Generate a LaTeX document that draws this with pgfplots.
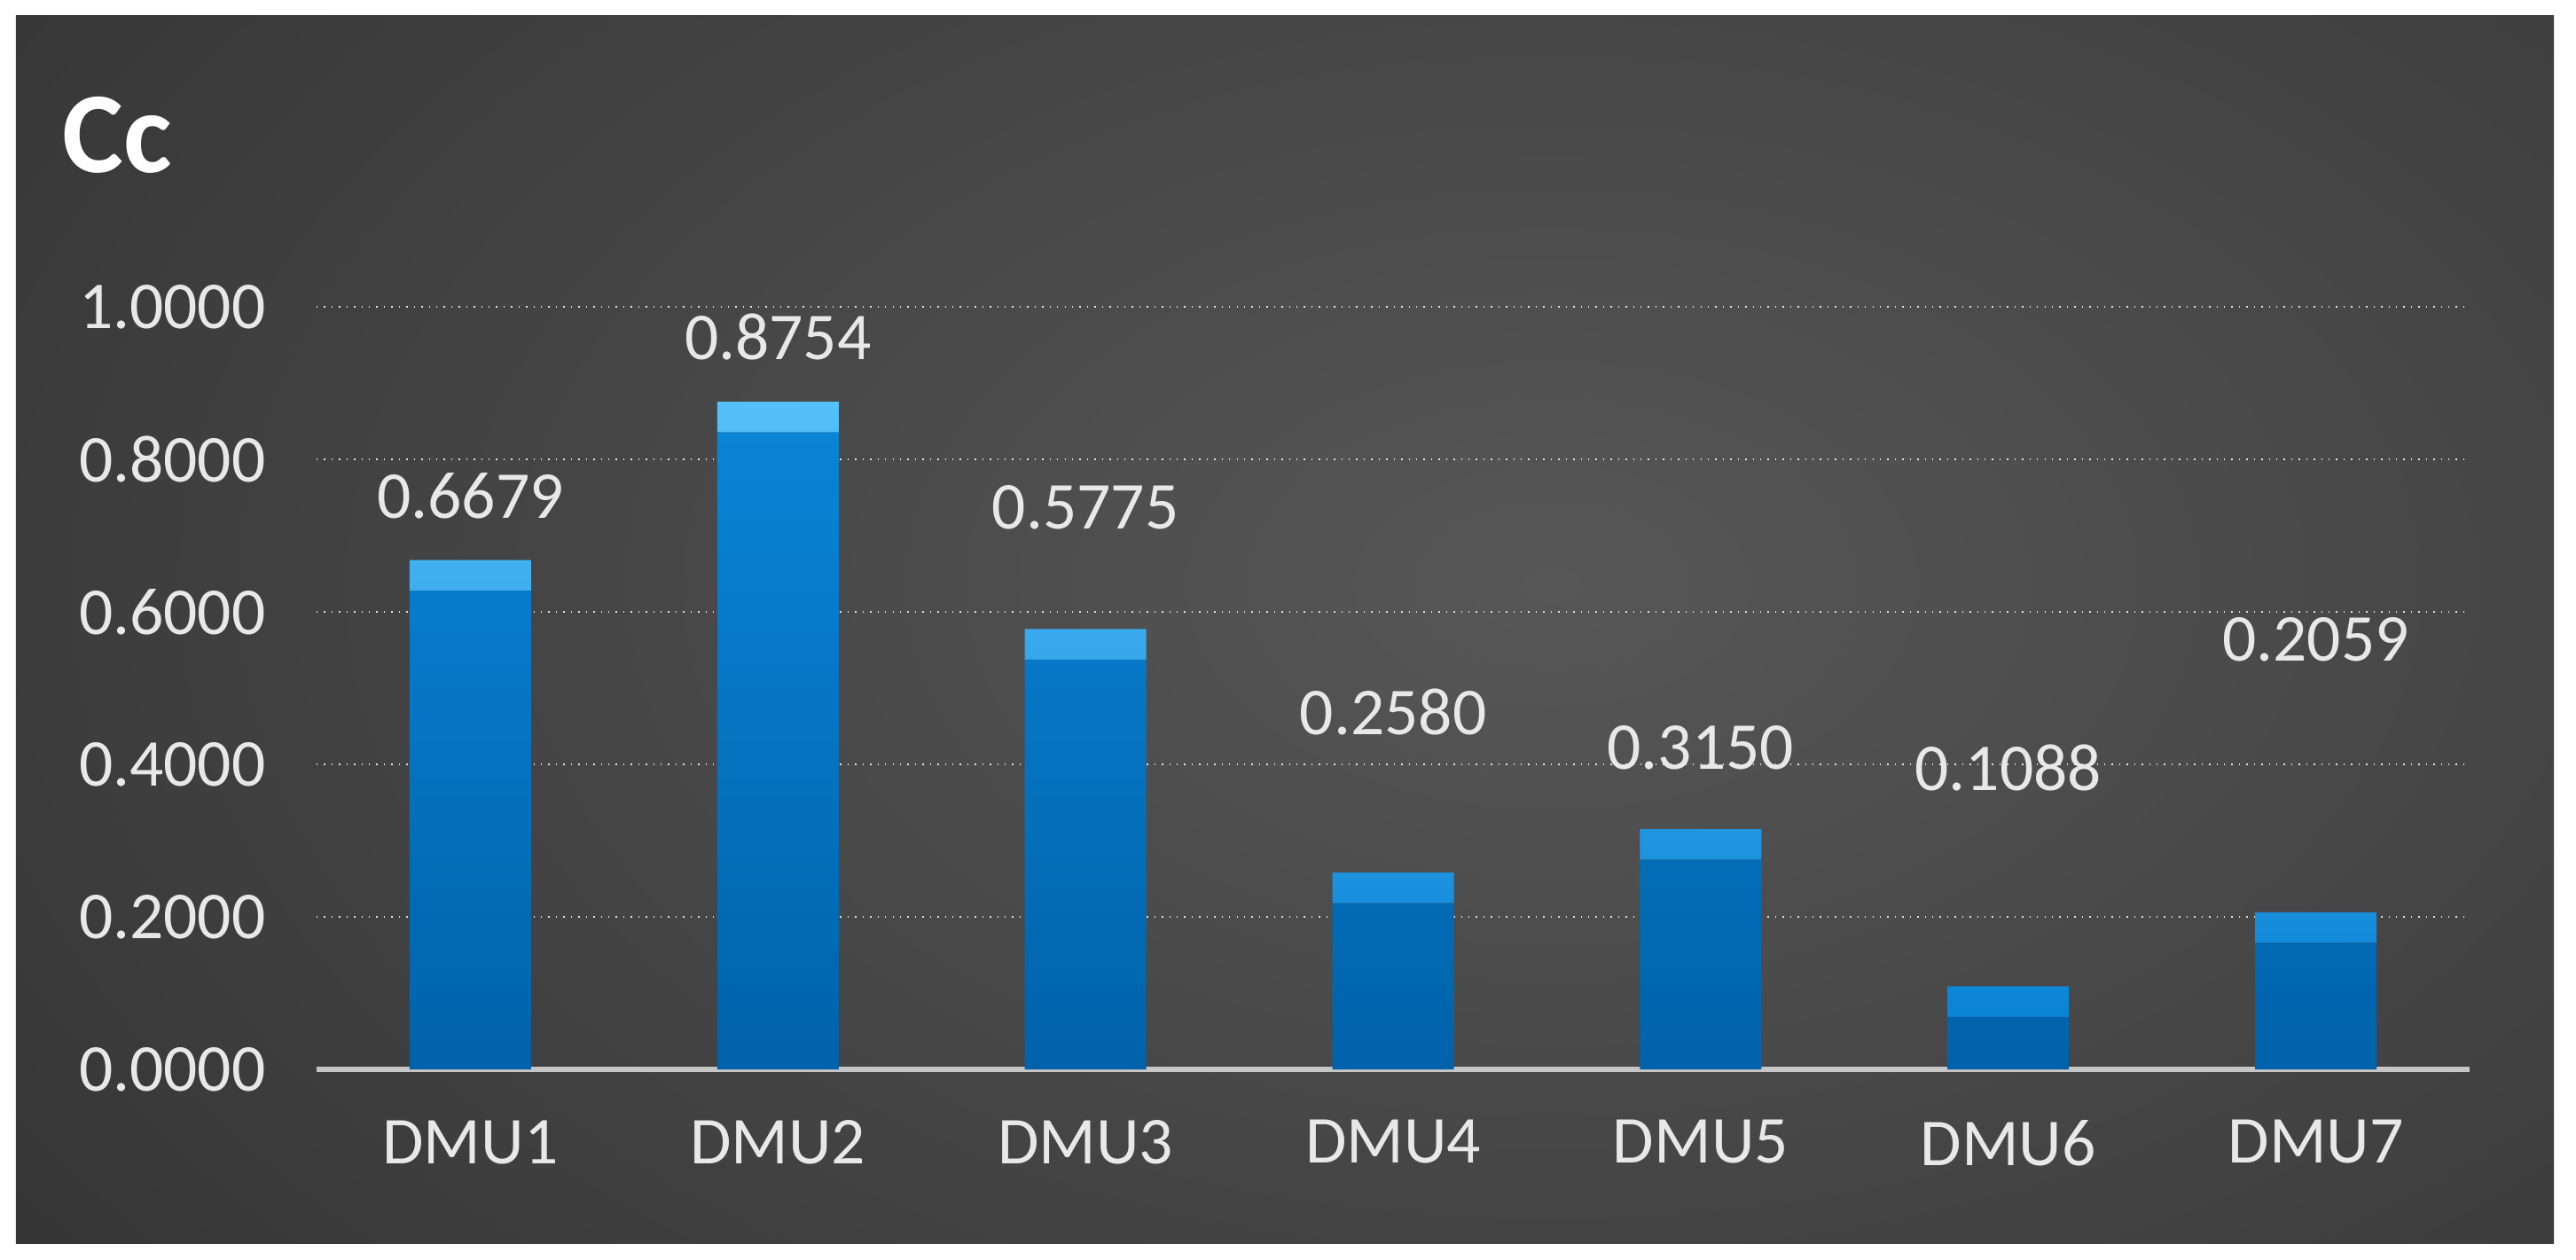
\documentclass[border=0pt]{standalone}
\usepackage{fontspec}
\setmainfont{Carlito}
\usepackage{pgfplots}
\usepackage{pgfplotstable}
\pgfplotsset{compat=1.18}

\definecolor{bgdark}{HTML}{1E1E1E}
\definecolor{bglight}{HTML}{575757}
\definecolor{bartop}{HTML}{0A84D6}
\definecolor{barbot}{HTML}{0062AA}
\definecolor{caphi}{HTML}{55C0FA}
\definecolor{txt}{HTML}{E8E8E8}

% x, value, label height
\pgfplotstableread{
x v ly
0 0.6679 0.7716
1 0.8754 0.9806
2 0.5775 0.7565
3 0.2580 0.4892
4 0.3150 0.4418
5 0.1088 0.4159
6 0.2059 0.5841
}\cc

\begin{document}
\begin{tikzpicture}
\fill[white] (0,0) rectangle (29.05,14.2);
\begin{scope}
  \clip (0.18,0.18) rectangle (28.80,14.02);
  \fill[bgdark] (0.18,0.18) rectangle (28.80,14.02);
  \shade[inner color=bglight, outer color=bgdark] (17.5,7.6) ellipse [x radius=36cm, y radius=22cm];
\end{scope}
\node[anchor=base west, inner sep=0, text=white,
      font=\fontsize{37}{40}\selectfont\bfseries] at (0.70,12.25) {Cc};

\begin{axis}[
  at={(3.57cm,2.14cm)}, anchor=south west,
  width=24.28cm, height=8.6cm, scale only axis,
  ybar stacked, bar width=1.37cm,
  xmin=-0.5, xmax=6.5, ymin=0, ymax=1,
  xtick=data, xticklabels={DMU1,DMU2,DMU3,DMU4,DMU5,DMU6,DMU7},
  ytick={0,0.2,0.4,0.6,0.8,1},
  /pgf/number format/assume math mode=true,
  y tick label style={/pgf/number format/fixed, /pgf/number format/fixed zerofill,
                      /pgf/number format/precision=4, xshift=-0.45cm},
  x tick label style={yshift=-0.45cm},
  tick label style={text=txt, font=\fontsize{21.5}{24}\selectfont},
  major tick length=0pt,
  axis line style={draw=none},
  ymajorgrids, grid style={white!80!gray, dotted, line width=0.8pt},
  extra y ticks={0}, extra y tick labels={},
  extra y tick style={grid style={white!55!gray, solid, line width=1.8pt}},
  clip=false,
]
\addplot[draw=none, top color=bartop, bottom color=barbot]
  table[x=x, y expr=\thisrow{v}-0.04] {\cc};
\addplot[draw=none, top color=caphi, middle color=caphi!40!bartop, bottom color=bartop,
  point meta=\thisrow{v},
  visualization depends on={\thisrow{ly}-\thisrow{v} \as \dy},
  nodes near coords={\pgfmathprintnumber[fixed,fixed zerofill,precision=4,assume math mode=true]{\pgfplotspointmeta}},
  nodes near coords style={anchor=center, yshift=\dy*8.6cm, text=txt,
                           font=\fontsize{21.5}{24}\selectfont}]
  table[x=x, y expr=0.04] {\cc};
\end{axis}
\end{tikzpicture}
\end{document}
